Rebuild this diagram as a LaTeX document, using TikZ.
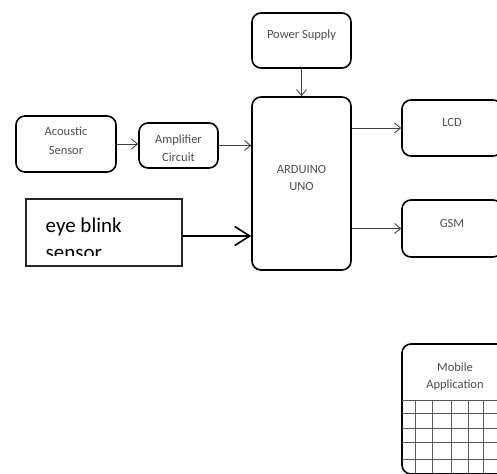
\documentclass[tikz,border=0pt]{standalone}
\usepackage{fontspec}
\setmainfont{Carlito}
\usetikzlibrary{arrows.meta}
\begin{document}
\begin{tikzpicture}[x=1pt,y=-1pt,
  blk/.style={draw=black, line width=1.6pt, rounded corners=9pt, inner sep=0pt},
  lbl/.style={text=black!70, font=\fontsize{12.5}{17}\selectfont, inner sep=0pt, anchor=base},
  con/.style={draw=black!75, line width=0.9pt, -{Straight Barb[length=6pt,width=10pt]}},
  gridln/.style={draw=black!65, line width=0.9pt},
]
\useasboundingbox (0,0) rectangle (497,473);
% boxes
\node[blk, minimum width=99pt, minimum height=55pt] (ps) at (301.5,40.5) {};
\node[blk, minimum width=99pt, minimum height=173pt] (ard) at (301.5,183.5) {};
\node[blk, minimum width=100pt, minimum height=56pt] (ac) at (66,144) {};
\node[blk, minimum width=79pt, minimum height=45pt] (amp) at (178.5,145.5) {};
\node[blk, minimum width=100pt, minimum height=56pt] (lcd) at (452,128) {};
\node[blk, minimum width=100pt, minimum height=57pt] (gsm) at (452,228.5) {};
\node[blk, minimum width=110pt, minimum height=130pt] (mob) at (457,409) {};
\node[draw=black!85, line width=1.3pt, minimum width=156pt, minimum height=67pt, inner sep=0pt] (eye) at (104,232.5) {};
% labels
\node[lbl] (pst) at (301.5,38.5) {Power Supply};
\node[lbl] (act1) at (66,136) {Acoustic};
\node[lbl] (act2) at (66,154) {Sensor};
\node[lbl] (ampt1) at (178.5,143) {Amplifier};
\node[lbl] (ampt2) at (178.5,161) {Circuit};
\node[lbl] (ardt1) at (301.5,173) {ARDUINO};
\node[lbl] (ardt2) at (301.5,190) {UNO};
\node[lbl] (lcdt) at (452,127) {LCD};
\node[lbl] (gsmt) at (452,227) {GSM};
\node[lbl] (mobt1) at (455,371) {Mobile};
\node[lbl] (mobt2) at (455,388) {Application};
\begin{scope}
  \clip (27,200) rectangle (181,255);
  \node[anchor=base west, inner sep=0pt, font=\fontsize{21}{29}\selectfont] (eyet1) at (45.5,232) {eye blink};
  \node[anchor=base west, inner sep=0pt, font=\fontsize{21}{29}\selectfont] (eyet2) at (45.5,259.5) {sensor};
\end{scope}
% grid
\foreach \yy in {400,413,428,442,459} \draw[gridln] (402,\yy) -- (500,\yy);
\foreach \xx in {415,432,451,468,483} \draw[gridln] (\xx,400) -- (\xx,476);
% connectors
\coordinate (eyeout) at (182,236);
\draw[con] (ps.south) -- (ard.north);
\draw[con] (ac.east) -- (amp.west |- ac.east);
\draw[con] (amp.east) -- (ard.west |- amp.east);
\draw[draw=black, line width=1.6pt, -{Straight Barb[length=15pt,width=19pt,line width=1.6pt]}] (eyeout) -- (ard.west |- eyeout);
\draw[con] (ard.east |- lcd.west) -- (lcd.west);
\draw[con] (ard.east |- gsm.west) -- (gsm.west);
\end{tikzpicture}
\end{document}
